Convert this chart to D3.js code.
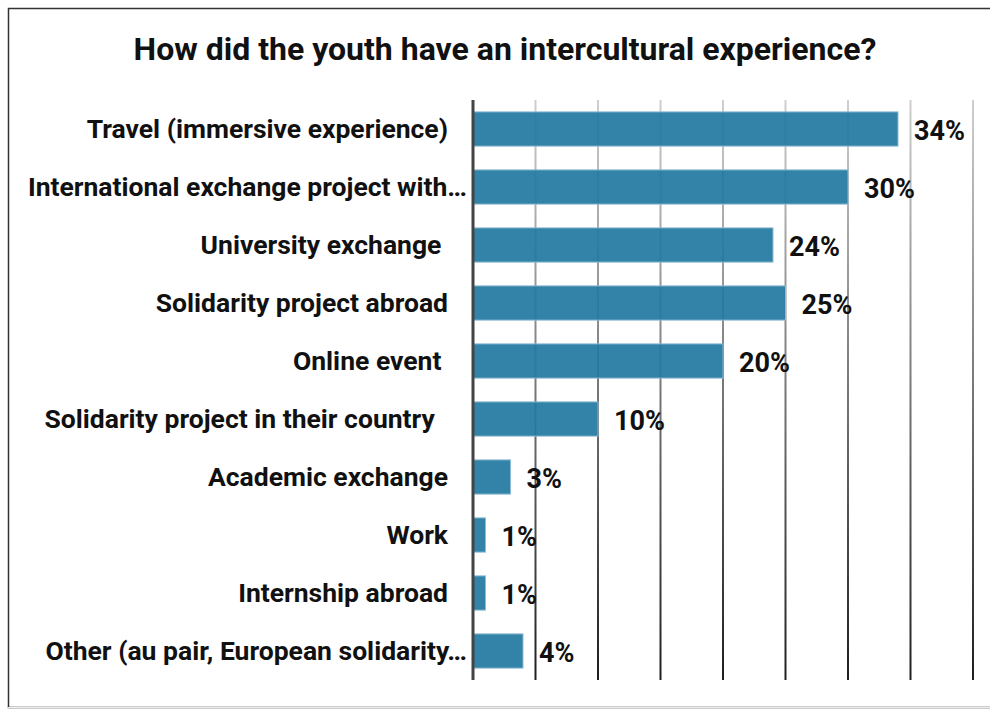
<!DOCTYPE html>
<html>
<head>
<meta charset="utf-8">
<script src="https://cdn.jsdelivr.net/npm/d3@7"></script>
<style>
  html, body { margin: 0; padding: 0; background: #fff; }
  svg { display: block; font-family: Roboto, "Noto Sans", sans-serif; }
  text { white-space: pre; }
</style>
</head>
<body>
<svg id="chart" width="990" height="709"></svg>
<script>
const title = "How did the youth have an intercultural experience?";
const categories = [
  "Travel (immersive experience)",
  "International exchange project with\u2026",
  "University exchange ",
  "Solidarity project abroad",
  "Online event ",
  "Solidarity project in their country  ",
  "Academic exchange",
  "Work",
  "Internship abroad",
  "Other (au pair, European solidarity\u2026"
];
const values = [34, 30, 24, 25, 20, 10, 3, 1, 1, 4];
const xTicks = [0, 5, 10, 15, 20, 25, 30, 35, 40];

(function () {
const svg = d3.select("#chart");
const mLeft = 473, mRight = 973, mTop = 100, mBottom = 680;

// frame
svg.append("rect").attr("x", 8.5).attr("y", 8.5).attr("width", 1000).attr("height", 699)
  .attr("fill", "#fff").attr("stroke", "#333").attr("stroke-width", 1.5);
svg.append("line").attr("x1", 8).attr("x2", 990).attr("y1", 707.5).attr("y2", 707.5)
  .attr("stroke", "#eeeeee").attr("stroke-width", 1);

const defs = svg.append("defs");
const grad = defs.append("linearGradient").attr("id", "gridGrad")
  .attr("gradientUnits", "userSpaceOnUse")
  .attr("x1", 0).attr("y1", mTop).attr("x2", 0).attr("y2", mBottom);
grad.append("stop").attr("offset", "0%").attr("stop-color", "#cfcfcf");
grad.append("stop").attr("offset", "100%").attr("stop-color", "#1e1e1e");

const x = d3.scaleLinear().domain([0, 40]).range([mLeft, mRight]);
const y = d3.scaleBand().domain(categories).range([mTop, mBottom]).paddingInner(0.41).paddingOuter(0.205);

// title
svg.append("text").attr("x", 505).attr("y", 60).attr("text-anchor", "middle")
  .attr("font-size", 32).attr("font-weight", 700).attr("fill", "#111").text(title);

// grid
svg.append("g").selectAll("line").data(xTicks.slice(1)).join("line")
  .attr("x1", d => x(d)).attr("x2", d => x(d))
  .attr("y1", mTop).attr("y2", mBottom)
  .attr("stroke", "url(#gridGrad)").attr("stroke-width", 2);

// bars
svg.append("g").selectAll("rect").data(values).join("rect")
  .attr("x", x(0))
  .attr("y", (d, i) => y(categories[i]))
  .attr("width", d => x(d) - x(0))
  .attr("height", y.bandwidth())
  .attr("fill", "#2478a1").attr("fill-opacity", 0.93)
  .attr("stroke", "#8fbcd6").attr("stroke-width", 1);

// axis line
svg.append("line").attr("x1", x(0)).attr("x2", x(0)).attr("y1", mTop).attr("y2", mBottom)
  .attr("stroke", "#444").attr("stroke-width", 3);

// category labels
svg.append("g").selectAll("text").data(categories).join("text")
  .attr("x", d => d.endsWith("\u2026") ? 467 : 448)
  .attr("y", d => y(d) + y.bandwidth() / 2)
  .attr("dy", "0.35em")
  .attr("text-anchor", "end")
  .attr("font-size", 26.5).attr("font-weight", 700).attr("fill", "#111")
  .text(d => d);

// value labels
svg.append("g").selectAll("text").data(values).join("text")
  .attr("x", d => x(d) + 16)
  .attr("y", (d, i) => y(categories[i]) + y.bandwidth() / 2)
  .attr("dy", "0.4em")
  .attr("font-size", 27).attr("font-weight", 700).attr("fill", "#111")
  .text(d => d + "%");
})();
</script>
</body>
</html>
